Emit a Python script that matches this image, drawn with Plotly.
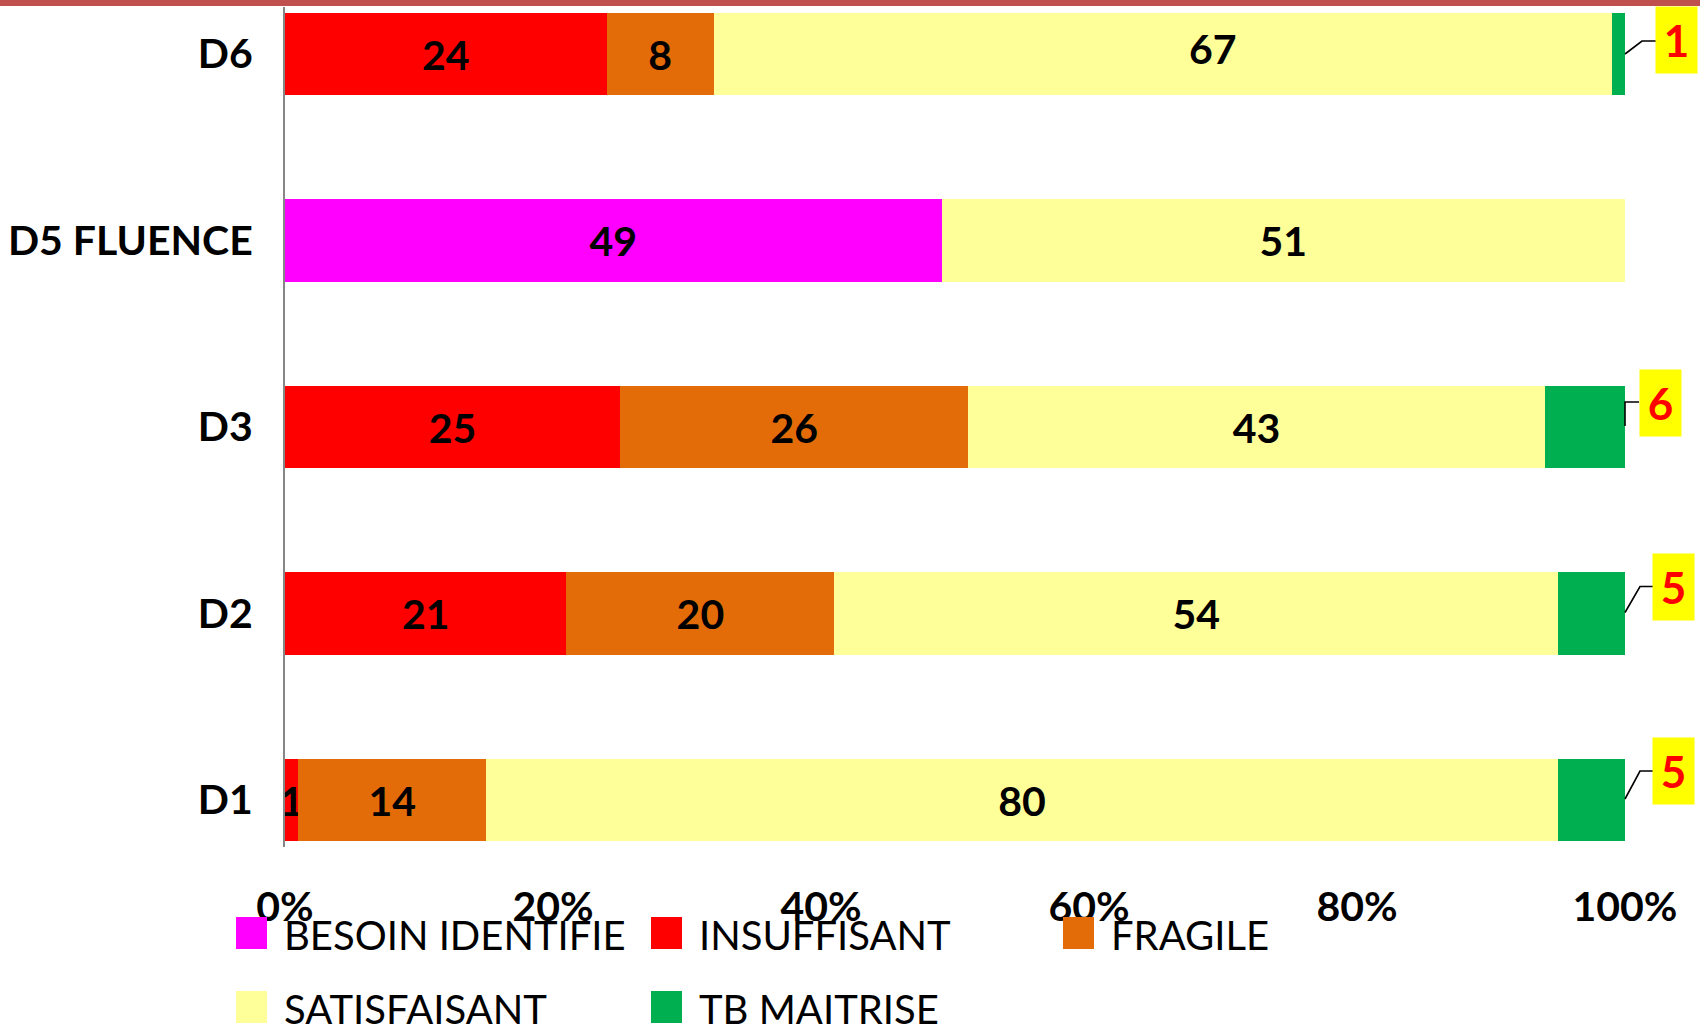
import plotly.graph_objects as go

# ---- data ----
categories = ["D1", "D2", "D3", "D5 FLUENCE", "D6"]
series_names = ["BESOIN IDENTIFIE", "INSUFFISANT", "FRAGILE", "SATISFAISANT", "TB MAITRISE"]
besoin = [0, 0, 0, 49, 0]
insuffisant = [1, 21, 25, 0, 24]
fragile = [14, 20, 26, 0, 8]
satisfaisant = [80, 54, 43, 51, 67]
tb_maitrise = [5, 5, 6, 0, 1]
x_ticks = [0, 20, 40, 60, 80, 100]
x_tick_labels = ["0%", "20%", "40%", "60%", "80%", "100%"]

series_values = [besoin, insuffisant, fragile, satisfaisant, tb_maitrise]
colors = ["#FF00FF", "#FF0000", "#E36C09", "#FFFF99", "#00B050"]

# ---- layout geometry (pixels) ----
W, H = 1700, 1025
L, R, T, B = 285, 75, 7, 178
PW, PH = W - L - R, H - T - B
FONT = "Lato"
LABEL_FONT = dict(family=FONT, size=41, color="black", weight="bold")
X_MAX = 100

# labels that were dragged away from the segment centre (series, category): (dx, dy) px
moved_labels = {("SATISFAISANT", "D6"): (50, 6)}


def px_x(p):
    return (p - L) / PW


def px_y(p):
    return (H - B - p) / PH


fig = go.Figure()
cum = [0] * len(categories)
for name, vals, col in zip(series_names, series_values, colors):
    show_text = name != "TB MAITRISE"
    texts = []
    for j, (cat, v) in enumerate(zip(categories, vals)):
        if v > 0 and show_text and (name, cat) not in moved_labels:
            texts.append(str(v))
        else:
            texts.append("")
        if (name, cat) in moved_labels and v > 0:
            dx, dy = moved_labels[(name, cat)]
            fig.add_annotation(x=cum[j] + v / 2, y=cat, xref="x", yref="y",
                               text=str(v), showarrow=False, xshift=dx, yshift=dy,
                               font=LABEL_FONT)
        cum[j] += v
    fig.add_trace(go.Bar(
        y=categories, x=vals, name=name, orientation="h",
        marker=dict(color=col, line=dict(width=0)),
        width=0.44,
        text=texts,
        textposition="inside", insidetextanchor="middle",
        constraintext="none",
        insidetextfont=LABEL_FONT,
        showlegend=False,
        hoverinfo="skip",
    ))

shapes = []

# callout labels for TB MAITRISE: box centre offset and elbow leader (pixels, y up)
callouts = {
    "D1": dict(box=(48, 29), path=[(0, 1), (15, 29), (28, 29)]),
    "D2": dict(box=(48, 27), path=[(0, 1), (15, 27), (28, 27)]),
    "D3": dict(box=(35, 24), path=[(0, 1), (0, 25), (14, 25)]),
    "D6": dict(box=(51, 14), path=[(0, 0), (17, 13), (31, 13)]),
}
for j, (cat, v) in enumerate(zip(categories, tb_maitrise)):
    if cat in callouts:
        c = callouts[cat]
        pts = c["path"]
        d = "M" + " L".join(f"{px},{py}" for px, py in pts)
        shapes.append(dict(type="path", xref="paper", yref="y",
                           xsizemode="pixel", ysizemode="pixel",
                           xanchor=cum[j] / X_MAX, yanchor=cat, path=d,
                           line=dict(color="black", width=1.6)))
        fig.add_annotation(
            x=cum[j], y=cat, xref="x", yref="y", text=str(v),
            showarrow=False, xshift=c["box"][0], yshift=c["box"][1],
            bgcolor="#FFFF00", width=41, height=66, borderpad=0,
            font=dict(family=FONT, size=44, color="#FF0000", weight="bold"),
        )
    else:
        fig.add_annotation(
            x=px_x(1671), y=px_y(1018), xref="paper", yref="paper",
            text=str(v), showarrow=False, xanchor="center", yanchor="top",
            font=dict(family=FONT, size=44, color="#FF0000", weight="bold"),
        )

# custom legend
col_x = [236, 651, 1063]
row_y = [933, 1007]
for i, (name, col) in enumerate(zip(series_names, colors)):
    cx = col_x[i % 3]
    cy = row_y[i // 3]
    shapes.append(dict(type="rect", xref="paper", yref="paper",
                       x0=px_x(cx), x1=px_x(cx + 31), y0=px_y(cy - 16), y1=px_y(cy + 16),
                       fillcolor=col, line=dict(width=0)))
    fig.add_annotation(x=px_x(cx + 46), y=px_y(cy + 2), xref="paper", yref="paper",
                       text=name, showarrow=False, xanchor="left", yanchor="middle",
                       font=dict(family=FONT, size=40, color="black"))

# top red rule
shapes.append(dict(type="rect", xref="paper", yref="paper",
                   x0=px_x(0), x1=px_x(W), y0=px_y(6), y1=px_y(-2),
                   fillcolor="#C0504D", line=dict(width=0)))

fig.update_layout(
    width=W, height=H,
    margin=dict(l=L, r=R, t=T, b=B, autoexpand=False),
    barmode="stack",
    plot_bgcolor="white", paper_bgcolor="white",
    shapes=shapes,
    font=dict(family=FONT, color="black"),
    xaxis=dict(range=[0, X_MAX], tickvals=x_ticks, ticktext=x_tick_labels,
               showgrid=False, zeroline=False, showline=False, ticks="",
               ticklabelstandoff=32,
               tickfont=dict(family=FONT, size=41, color="black", weight="bold")),
    yaxis=dict(type="category", categoryorder="array", categoryarray=categories,
               range=[-0.252, 4.252], showgrid=False, zeroline=False,
               showline=True, linecolor="#868686", linewidth=2, ticks="",
               ticklabelstandoff=22,
               tickfont=dict(family=FONT, size=41, color="black", weight="bold")),
)

fig.write_html(
    "out.html",
    config={"displayModeBar": False},
    post_script="document.body.style.margin='0';document.body.style.overflow='hidden';",
)
